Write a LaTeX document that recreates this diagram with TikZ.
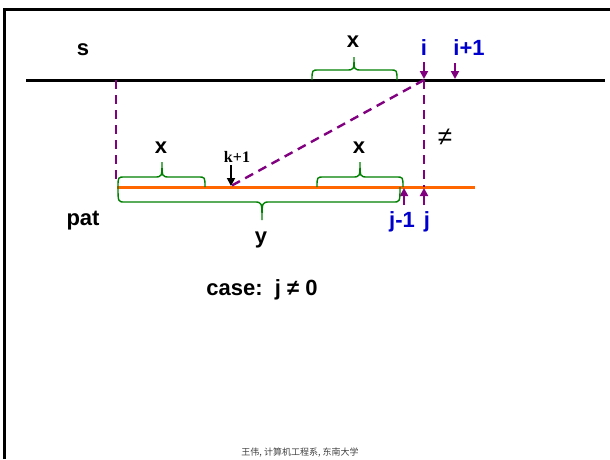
\documentclass[tikz,border=0pt]{standalone}
\usepackage{fontspec}
\setmainfont{Liberation Sans}
\newfontfamily\serifbold{Liberation Serif}
\newfontfamily\cjk{Noto Sans CJK SC}
\usetikzlibrary{arrows.meta}
\definecolor{dpurple}{HTML}{800080}
\definecolor{dorange}{HTML}{FF6600}
\definecolor{dgreen}{HTML}{008000}
\definecolor{dblue}{HTML}{0000CC}
\tikzset{
  lbl/.style={inner sep=0pt, font=\fontsize{22}{22}\selectfont\bfseries},
  bluelbl/.style={lbl, text=dblue},
  parr/.style={dpurple, line width=2pt, -{Triangle[length=8pt,width=8pt]}},
  karr/.style={black, line width=1.7pt, -{Triangle[length=8pt,width=8pt]}},
  pdash/.style={dpurple, line width=2.4pt, dash pattern=on 9pt off 6pt},
  bracestyle/.style={dgreen, line width=1.4pt},
}
\newcommand\gbrace[6]{%
  \draw[bracestyle] (#1,#4) .. controls (#1,#5) .. (#1+7,#5) -- (#3-8,#5)
    .. controls (#3,#5) .. (#3,#6) .. controls (#3,#5) .. (#3+8,#5)
    -- (#2-7,#5) .. controls (#2,#5) .. (#2,#4);}
\begin{document}
\begin{tikzpicture}[x=1pt,y=-1pt]
\useasboundingbox (0,0) rectangle (610,459);
% frame
\draw[line width=2.6pt] (4.7,459) -- (4.7,9.5) -- (610,9.5);
% lines
\coordinate (sL) at (26,80); \coordinate (sR) at (605,80);
\draw[line width=3pt] (sL) -- (sR);
\coordinate (pL) at (117,187); \coordinate (pR) at (475,187);
\draw[dorange, line width=3pt] (pL) -- (pR);
% dashed connectors
\coordinate (si) at (424,80);
\coordinate (s0) at (116,80);
\coordinate (p0) at (116,183);
\coordinate (pj) at (424,187);
\coordinate (pk) at (231,186);
\draw[pdash] (s0) -- (p0);
\draw[pdash] (si) -- (pj);
\draw[pdash] (si) -- (pk);
% labels
\node[lbl] (s) at (83,50) {s};
\node[lbl] (pat) at (83,221) {pat};
\node[lbl] (xt) at (353,42) {x};
\node[lbl] (xl) at (161,148) {x};
\node[lbl] (xr) at (359,148) {x};
\node[lbl] (y) at (261,240) {y};
\node[bluelbl] (i) at (424,48) {i};
\node[bluelbl] (i1) at (469,48) {i+1};
\node[bluelbl] (j1) at (402,222) {j-1};
\node[bluelbl] (j) at (427,222) {j};
\node[inner sep=0pt, font=\fontsize{26}{26}\selectfont] (ne) at (445,137) {≠};
\node[inner sep=0pt, font=\fontsize{16}{16}\selectfont\serifbold\bfseries] (k1) at (237,157) {k+1};
\node[lbl] (case) at (262,290) {case:\ \ j ≠ 0};
\node[inner sep=0pt, font=\fontsize{9}{9}\selectfont\cjk, text=black!75] (foot) at (300,453) {王伟, 计算机工程系, 东南大学};
% arrows
\coordinate (ia) at (424,62); \coordinate (ib) at (424,79);
\draw[parr] (ia) -- (ib);
\coordinate (i1a) at (455,63); \coordinate (i1b) at (455,79);
\draw[parr] (i1a) -- (i1b);
\coordinate (ka) at (231,165);
\draw[karr] (ka) -- (pk);
\coordinate (j1a) at (404,205); \coordinate (j1b) at (404,188);
\draw[parr] (j1a) -- (j1b);
\coordinate (ja) at (424,205); \coordinate (jb) at (424,188);
\draw[parr] (ja) -- (jb);
% braces
\gbrace{312}{397}{354}{80}{70}{57}
\gbrace{118}{205}{162}{187}{177}{162}
\gbrace{317}{403}{360}{187}{177}{162}
\gbrace{118}{400}{262}{187}{202}{220}
\end{tikzpicture}
\end{document}
